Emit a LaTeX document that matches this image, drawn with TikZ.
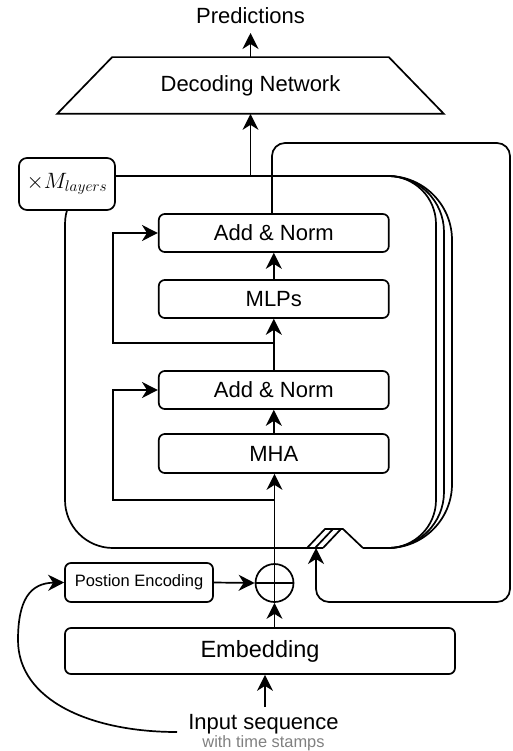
\documentclass[tikz,border=0pt]{standalone}
\usepackage{fontspec}
\newfontfamily\arialf{Liberation Sans}
\usetikzlibrary{arrows.meta}
\begin{document}
\begin{tikzpicture}[x=1pt,y=-1pt,line width=1.7pt,
  blk/.style={draw,rounded corners=6pt,minimum width=230pt,minimum height=38pt,inner sep=0pt,font=\arialf\fontsize{22}{26}\selectfont},
  lbl/.style={inner sep=0pt,font=\arialf\fontsize{22}{26}\selectfont},
  arr/.style={-{Stealth[length=16pt,width=16pt,inset=5pt]}}]
\useasboundingbox (0,0) rectangle (513,751);
% stacked layer frame
\draw[rounded corners=48pt] (307,548) -- (65,548) -- (65,176) -- (436,176) -- (436,548) -- (363,548);
\draw[rounded corners=56pt] (380,176) -- (444,176) -- (444,548) -- (363,548);
\draw[rounded corners=64pt] (380,176) -- (452,176) -- (452,548) -- (363,548);
\draw (307,548) -- (323,548);
\draw (307,548) -- (325,529) -- (343,529) -- (363,548);
\draw (315,548) -- (333,529);
\draw (323,548) -- (341,529);
% label
\node[draw,fill=white,rounded corners=8pt,minimum width=96pt,minimum height=52pt,inner sep=0pt,font=\fontsize{22}{26}\selectfont] (xm) at (67,184) {\scalebox{1.07}{$\times M_{layers}$}};
% blocks
\node[blk] (an1) at (273.8,233) {Add \& Norm};
\node[blk] (mlp) at (273.8,299) {MLPs};
\node[blk] (an2) at (273.8,390) {Add \& Norm};
\node[blk,minimum height=39pt] (mha) at (273.8,453.5) {MHA};
% decoder
\node[lbl,minimum width=385pt,minimum height=55pt] (dec) at (250.5,85.5) {Decoding Network};
\draw (dec.south west) -- ([xshift=55pt]dec.north west) -- ([xshift=-55pt]dec.north east) -- (dec.south east) -- cycle;
\node[lbl,anchor=base] (pred) at (250.5,23.3) {Predictions};
\coordinate (predtip) at (250.5,33);
\draw[arr] (dec.north) -- (predtip);
\coordinate (dtap) at (250.5,176);
\draw[arr] (dtap) -- (dec.south);
% bottom part
\node[draw,rounded corners=6pt,minimum width=148pt,minimum height=39pt,inner sep=0pt,font=\arialf\fontsize{16.5}{19}\selectfont] (pe) at (139,582.5) {Postion Encoding};
\node[draw,rounded corners=6pt,minimum width=390pt,minimum height=46pt,inner sep=0pt,font=\arialf\fontsize{23.5}{27}\selectfont] (emb) at (260,651) {Embedding};
\node[draw,circle,minimum size=38pt,inner sep=0pt] (plus) at (274.5,583) {};
\draw (plus.north) -- (plus.south);
\draw (plus.west) -- (plus.east);
\node[lbl,anchor=base] (inp) at (263.5,729) {Input sequence};
\node[inner sep=0pt,anchor=base,text=black!50,font=\arialf\fontsize{16.4}{19}\selectfont] (ts) at (263.5,747.3) {with time stamps};
\coordinate (inpt) at (265,707);
\coordinate (cs) at (177,732);
\draw[arr] (inpt) -- (inpt |- emb.south);
\draw[arr] (cs) .. controls (90,732) and (18,700) .. (18,640) .. controls (18,600) and (30,583) .. (pe.west);
\draw[arr] (pe.east) -- (plus.west);
\draw[arr] (plus.south |- emb.north) -- (plus.south);
\draw[arr] (plus.north) -- (plus.north |- mha.south);
\draw[arr] (mha.north) -- (an2.south);
\draw[arr] (an2.north) -- (mlp.south);
\draw[arr] (mlp.north) -- (an1.south);
% residuals
\coordinate (r1) at (274,500);
\draw[arr] (r1) -- (113,500) -- (113,390) -- (an2.west);
\coordinate (r2) at (274,343);
\draw[arr] (r2) -- (113,343) -- (113,233) -- (an1.west);
% loop
\coordinate (ls) at (272,214);
\coordinate (lp) at (316,548);
\draw[arr,rounded corners=13pt] (ls) -- (272,143) -- (510,143) -- (510,602) -- (316,602) -- (lp);
\end{tikzpicture}
\end{document}
